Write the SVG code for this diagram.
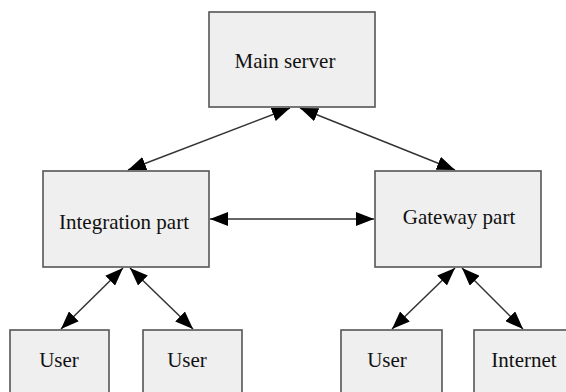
<svg xmlns="http://www.w3.org/2000/svg" width="566" height="392" viewBox="0 0 566 392">
<style>
.box{fill:#efefef;stroke:#555;stroke-width:1.6}
.lbl{font-family:"Liberation Serif","Times New Roman",serif;font-size:21px;fill:#111;text-anchor:middle}
.con{stroke:#333;stroke-width:1.5;fill:none;marker-start:url(#ah);marker-end:url(#ah)}
</style>
<defs>
<marker id="ah" markerUnits="userSpaceOnUse" markerWidth="19" markerHeight="14" refX="18" refY="7" orient="auto-start-reverse" viewBox="0 0 19 14">
<path d="M0,0 L18,7 L0,14 z" fill="#000"/>
</marker>
</defs>
<rect width="566" height="392" fill="#fff"/>
<g id="connectors">
<line class="con" x1="128" y1="170" x2="290" y2="108"/>
<line class="con" x1="300" y1="108" x2="455" y2="170"/>
<line class="con" x1="210" y1="219" x2="374" y2="219"/>
<line class="con" x1="61" y1="329" x2="123" y2="268"/>
<line class="con" x1="130" y1="268" x2="193" y2="329"/>
<line class="con" x1="392" y1="329" x2="455" y2="268"/>
<line class="con" x1="462" y1="268" x2="523" y2="329"/>
</g>
<g id="main-server">
<rect class="box" x="209" y="12" width="166" height="95"/>
<text class="lbl" x="285" y="68">Main server</text>
</g>
<g id="integration-part">
<rect class="box" x="43" y="171" width="166" height="96"/>
<text class="lbl" x="124" y="229">Integration part</text>
</g>
<g id="gateway-part">
<rect class="box" x="375" y="171" width="166" height="96"/>
<text class="lbl" x="459" y="224">Gateway part</text>
</g>
<g id="user1">
<rect class="box" x="10" y="330" width="99" height="72"/>
<text class="lbl" x="59" y="367">User</text>
</g>
<g id="user2">
<rect class="box" x="143" y="330" width="99" height="72"/>
<text class="lbl" x="187" y="367">User</text>
</g>
<g id="user3">
<rect class="box" x="341" y="330" width="101" height="72"/>
<text class="lbl" x="387" y="367">User</text>
</g>
<g id="internet">
<rect class="box" x="474" y="330" width="100" height="72"/>
<text class="lbl" x="524" y="367">Internet</text>
</g>
</svg>
